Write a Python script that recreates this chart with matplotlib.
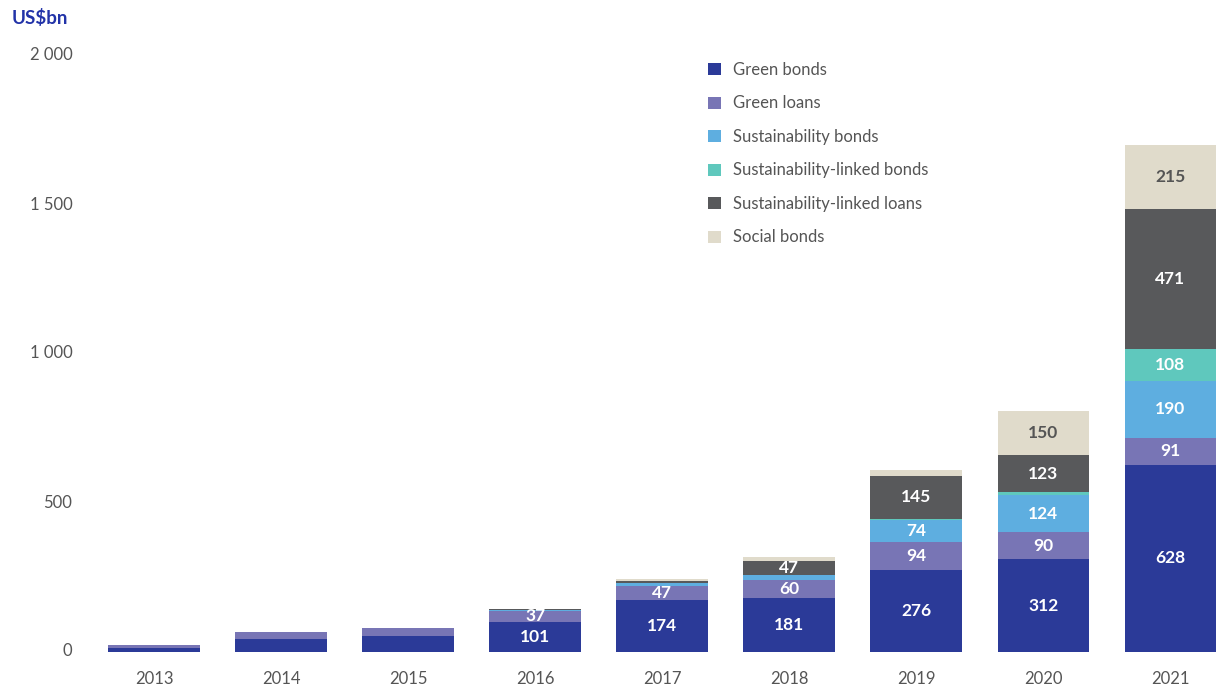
import numpy as np
import matplotlib
matplotlib.use("Agg")
from matplotlib import pyplot as plt
from matplotlib.patches import Patch
from matplotlib.transforms import ScaledTranslation

plt.rcParams['font.family'] = ['Lato', 'DejaVu Sans']

years = ['2013', '2014', '2015', '2016', '2017', '2018', '2019', '2020', '2021']
series = ['Green bonds', 'Green loans', 'Sustainability bonds',
          'Sustainability-linked bonds', 'Sustainability-linked loans', 'Social bonds']

green_bonds = [15, 43, 53, 101, 174, 181, 276, 312, 628]
green_loans = [9, 24, 27, 37, 47, 60, 94, 90, 91]
sust_bonds = [0, 0, 0, 4, 10, 16, 74, 124, 190]
sust_linked_bonds = [0, 0, 0, 0, 2, 1, 3, 11, 108]
sust_linked_loans = [0, 0, 0, 1, 4, 47, 145, 123, 471]
social_bonds = [0, 0, 0, 0, 8, 13, 20, 150, 215]

# which values get a label printed on the bar
show_labels = [
    [False, False, False, True, True, True, True, True, True],
    [False, False, False, True, True, True, True, True, True],
    [False, False, False, False, False, False, True, True, True],
    [False, False, False, False, False, False, False, False, True],
    [False, False, False, False, False, True, True, True, True],
    [False, False, False, False, False, False, False, True, True],
]

colors = ['#2b3a98', '#7875b5', '#5eaee0', '#5fc8bd', '#58595b', '#e0dbcb']
label_colors = ['white', 'white', 'white', 'white', 'white', '#555555']

data = [green_bonds, green_loans, sust_bonds, sust_linked_bonds, sust_linked_loans, social_bonds]

fig = plt.figure(figsize=(12.16, 6.87), dpi=100)
ax = fig.add_axes([90.5 / 1216, 1 - 652 / 687, 1 - 90.5 / 1216, (652 - 56) / 687])

x = np.arange(len(years))
bottom = np.zeros(len(years))
for i, vals in enumerate(data):
    vals = np.array(vals, dtype=float)
    ax.bar(x, vals, width=0.72, bottom=bottom, color=colors[i], linewidth=0)
    for j in range(len(years)):
        if show_labels[i][j]:
            ax.text(x[j], bottom[j] + vals[j] / 2, str(int(vals[j])),
                    ha='center', va='center', fontsize=12.5, fontweight='bold',
                    color=label_colors[i])
    bottom += vals

ax.set_xlim(-0.5, 8.36)
ax.set_ylim(0, 2000)
ax.set_xticks(x)
ax.set_xticklabels(years)
ax.set_yticks([0, 500, 1000, 1500, 2000])
ax.set_yticklabels(['0', '500', '1 000', '1 500', '2 000'])
ax.tick_params(length=0, labelsize=12, labelcolor='#555555')
ax.tick_params(axis='y', pad=13)
ax.tick_params(axis='x', pad=14)
# y labels sit a little above their value position
for lbl in ax.get_yticklabels():
    lbl.set_transform(lbl.get_transform() + ScaledTranslation(0, 2 / 100, fig.dpi_scale_trans))
for s in ax.spines.values():
    s.set_visible(False)

fig.text(12 / 1216, 1 - 18 / 687, 'US$bn', fontsize=13.5, fontweight='bold',
         color='#2233a8', va='center', ha='left')

handles = [Patch(facecolor=c, edgecolor='none') for c in colors]
leg = fig.legend(handles, series, loc='upper left', bbox_to_anchor=(693 / 1216, 1 - 47 / 687),
                 frameon=False, fontsize=12, handlelength=0.75, handleheight=0.75,
                 handletextpad=0.75, labelspacing=1.05)
for t in leg.get_texts():
    t.set_color('#555555')

fig.savefig('out.png', dpi=100)
